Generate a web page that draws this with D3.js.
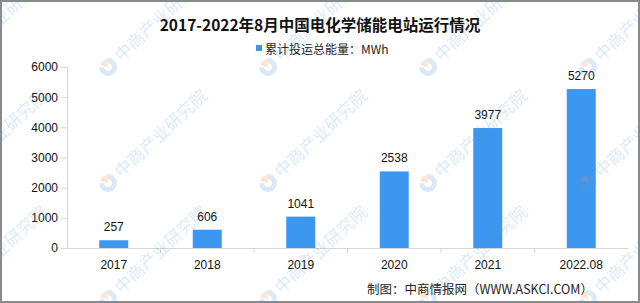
<!DOCTYPE html>
<html>
<head>
<meta charset="utf-8">
<script src="https://cdn.jsdelivr.net/npm/d3@7"></script>
<style>
  html, body { margin: 0; padding: 0; background: #fff; }
  svg { display: block; }
</style>
</head>
<body>
<div class="chart-section"></div>
<script>
const years = ["2017", "2018", "2019", "2020", "2021", "2022.08"];
const energy = [257, 606, 1041, 2538, 3977, 5270];
const yTicks = [0, 1000, 2000, 3000, 4000, 5000, 6000];
const titleText = "2017-2022年8月中国电化学储能电站运行情况";
const legendText = "累计投运总能量：MWh";
const sourceText = "制图：中商情报网（WWW.ASKCI.COM）";
const watermarkText = "中商产业研究院";

const width = 640,
  height = 303;
const marginLeft = 67,
  marginRight = 12,
  marginTop = 67,
  marginBottom = 55;
const barColor = "#3b97ef";
const axisColor = "#d6d6d6";
const cjkFont = "'Noto Sans CJK SC', sans-serif";
const numFont = "'Liberation Sans', Arial, sans-serif";

const svg = d3
  .select(".chart-section")
  .append("svg")
  .attr("width", width)
  .attr("height", height);

svg
  .append("rect")
  .attr("x", 1)
  .attr("y", 1)
  .attr("width", width - 2)
  .attr("height", height - 2)
  .attr("fill", "#fff")
  .attr("stroke", "#8a8a8a")
  .attr("stroke-width", 2);

const xScale = d3
  .scaleBand()
  .domain(years)
  .range([marginLeft, width - marginRight])
  .paddingInner(0.69)
  .paddingOuter(0.345);

const yScale = d3
  .scaleLinear()
  .domain([0, 6000])
  .range([height - marginBottom, marginTop]);

// title
svg
  .append("text")
  .text(titleText)
  .attr("x", width / 2)
  .attr("y", 31)
  .attr("text-anchor", "middle")
  .attr("font-family", cjkFont)
  .attr("font-weight", "bold")
  .attr("font-size", 15.5)
  .attr("fill", "#111");

// legend
svg
  .append("rect")
  .attr("x", 256)
  .attr("y", 45)
  .attr("width", 6)
  .attr("height", 6)
  .attr("fill", barColor);

svg
  .append("text")
  .text(legendText)
  .attr("x", 265)
  .attr("y", 54)
  .attr("font-family", cjkFont)
  .attr("font-size", 12)
  .attr("fill", "#222");

// y axis
const yAxis = d3
  .axisLeft(yScale)
  .tickValues(yTicks)
  .tickSize(6)
  .tickPadding(3)
  .tickFormat(d3.format("d"));

const gy = svg
  .append("g")
  .attr("transform", `translate(${marginLeft},0)`)
  .call(yAxis);
gy.select(".domain").attr("stroke", axisColor);
gy.selectAll(".tick line").attr("stroke", axisColor);
gy.selectAll(".tick text")
  .attr("font-family", numFont)
  .attr("font-size", 12)
  .attr("fill", "#111");

// x axis, ticks between the bands
const xAxis = d3.axisBottom(xScale).tickSize(0).tickPadding(12);
const gx = svg
  .append("g")
  .attr("transform", `translate(0,${height - marginBottom})`)
  .call(xAxis);
gx.select(".domain").attr("stroke", axisColor);
gx.selectAll(".tick text")
  .attr("font-family", numFont)
  .attr("font-size", 12)
  .attr("fill", "#111");

const step = xScale.step();
gx.selectAll(".sep")
  .data(years.slice(1))
  .enter()
  .append("line")
  .attr("class", "sep")
  .attr("x1", (d) => xScale(d) + xScale.bandwidth() / 2 - step / 2)
  .attr("x2", (d) => xScale(d) + xScale.bandwidth() / 2 - step / 2)
  .attr("y1", 0)
  .attr("y2", 5)
  .attr("stroke", axisColor);

// bars
svg
  .selectAll(".bar")
  .data(energy)
  .enter()
  .append("rect")
  .attr("class", "bar")
  .attr("x", (d, i) => xScale(years[i]))
  .attr("y", (d) => yScale(d))
  .attr("width", xScale.bandwidth())
  .attr("height", (d) => yScale(0) - yScale(d))
  .attr("fill", barColor);

// value labels
svg
  .selectAll(".val")
  .data(energy)
  .enter()
  .append("text")
  .attr("class", "val")
  .text((d) => d)
  .attr("x", (d, i) => xScale(years[i]) + xScale.bandwidth() / 2)
  .attr("y", (d) => yScale(d) - 9)
  .attr("text-anchor", "middle")
  .attr("font-family", numFont)
  .attr("font-size", 12)
  .attr("fill", "#111");

// source
svg
  .append("text")
  .text(sourceText)
  .attr("x", 593)
  .attr("y", 294)
  .attr("text-anchor", "end")
  .attr("font-family", cjkFont)
  .attr("font-size", 12.5)
  .attr("fill", "#222");

// watermark grid
const wmX = [-52, 108, 268, 428, 588];
const wmY = [-49, 67, 183, 299];
const wm = svg.append("g").attr("opacity", 0.22).attr("pointer-events", "none");
wmY.forEach((y) => {
  wmX.forEach((x) => {
    const g = wm.append("g").attr("transform", `translate(${x},${y}) rotate(-43)`);
    g.append("path")
      .attr("d", d3.arc()({ innerRadius: 4, outerRadius: 9, startAngle: 0.6, endAngle: 5.4 }))
      .attr("fill", "#5b9bd5");
    g.append("path")
      .attr("d", d3.arc()({ innerRadius: 0, outerRadius: 8, startAngle: -0.6, endAngle: 0.6 }))
      .attr("fill", "#f08a4b");
    g.append("text")
      .text(watermarkText)
      .attr("x", 13)
      .attr("y", 6)
      .attr("font-family", cjkFont)
      .attr("font-size", 17)
      .attr("fill", "#5b9bd5");
  });
});
</script>
</body>
</html>
